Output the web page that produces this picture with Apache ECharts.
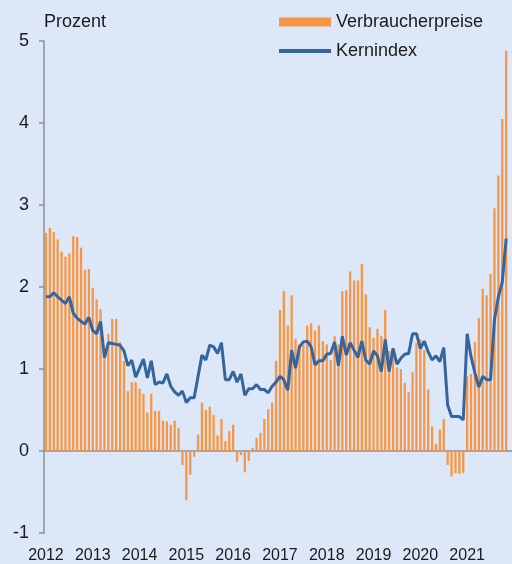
<!DOCTYPE html>
<html>
<head>
<meta charset="utf-8">
<script src="https://cdn.jsdelivr.net/npm/echarts@6/dist/echarts.min.js"></script>
<style>
  html, body { margin: 0; padding: 0; background: #dce8f7; }
  #main { width: 512px; height: 564px; }
</style>
</head>
<body>
<div id="main"></div>
<script>
// Jahre der x-Achse (Monatswerte, Jan 2012 - Nov 2021)
const years = [2012, 2013, 2014, 2015, 2016, 2017, 2018, 2019, 2020, 2021];
const months = [];
years.forEach(function (y) {
  for (let m = 1; m <= 12; m++) months.push(y + '-' + String(m).padStart(2, '0'));
});

// Verbraucherpreise, Veränderung gg. Vorjahr in %
const verbraucherpreise = [
  2.66, 2.72, 2.67, 2.58, 2.43, 2.37, 2.41, 2.62, 2.61, 2.48, 2.21, 2.22,
  1.99, 1.85, 1.73, 1.20, 1.43, 1.61, 1.61, 1.33, 1.10, 0.73, 0.84, 0.84,
  0.76, 0.70, 0.47, 0.70, 0.49, 0.49, 0.37, 0.36, 0.32, 0.37, 0.28, -0.17,
  -0.60, -0.29, -0.07, 0.20, 0.59, 0.50, 0.54, 0.44, 0.19, 0.39, 0.12, 0.24,
  0.32, -0.13, -0.05, -0.26, -0.12, 0.04, 0.16, 0.22, 0.39, 0.51, 0.59, 1.10,
  1.72, 1.95, 1.53, 1.90, 1.37, 1.30, 1.30, 1.53, 1.56, 1.47, 1.53, 1.34,
  1.30, 1.11, 1.40, 1.30, 1.95, 1.96, 2.19, 2.08, 2.08, 2.28, 1.91, 1.51,
  1.38, 1.49, 1.40, 1.72, 1.22, 1.26, 1.02, 1.00, 0.83, 0.72, 0.96, 1.32,
  1.36, 1.23, 0.75, 0.30, 0.09, 0.26, 0.39, -0.17, -0.31, -0.27, -0.28, -0.27,
  0.91, 0.94, 1.33, 1.62, 1.98, 1.90, 2.16, 2.96, 3.36, 4.05, 4.88
];

// Kernindex
const kernindex = [
  1.88, 1.88, 1.93, 1.88, 1.84, 1.80, 1.88, 1.68, 1.62, 1.58, 1.55, 1.63,
  1.47, 1.43, 1.58, 1.14, 1.32, 1.31, 1.30, 1.29, 1.22, 1.04, 1.11, 0.90,
  1.01, 1.12, 0.89, 1.10, 0.81, 0.84, 0.83, 0.94, 0.79, 0.72, 0.68, 0.73,
  0.59, 0.65, 0.65, 0.91, 1.17, 1.11, 1.29, 1.27, 1.19, 1.32, 0.87, 0.87,
  0.97, 0.84, 0.94, 0.68, 0.76, 0.76, 0.81, 0.75, 0.75, 0.71, 0.79, 0.84,
  0.91, 0.87, 0.74, 1.23, 1.01, 1.27, 1.33, 1.34, 1.27, 1.05, 1.10, 1.10,
  1.18, 1.19, 1.33, 1.04, 1.40, 1.17, 1.32, 1.23, 1.14, 1.34, 1.11, 1.06,
  1.22, 1.16, 0.97, 1.36, 0.97, 1.25, 1.06, 1.13, 1.18, 1.19, 1.43, 1.43,
  1.25, 1.34, 1.21, 1.11, 1.16, 1.09, 1.26, 0.56, 0.42, 0.42, 0.42, 0.38,
  1.43, 1.15, 0.95, 0.78, 0.91, 0.87, 0.87, 1.60, 1.88, 2.06, 2.59
];

const axisGrey = '#8e8e8e';
const textColor = '#1a1a1a';
const isYearStart = function (i) { return i % 12 === 0; };

const chart = echarts.init(document.getElementById('main'));
chart.setOption({
  backgroundColor: '#dce8f7',
  animation: false,
  textStyle: { fontFamily: 'Liberation Sans, Arial, sans-serif' },
  grid: { left: 44, right: -3.5, top: 41, bottom: 30.3 },
  legend: {
    orient: 'vertical',
    left: 274,
    top: 8,
    itemWidth: 52,
    itemHeight: 9,
    itemGap: 11,
    textStyle: { fontSize: 18, color: textColor, lineHeight: 18 },
    data: [
      { name: 'Verbraucherpreise', icon: 'rect' },
      { name: 'Kernindex', icon: 'path://M0,0H52V4H0Z' }
    ]
  },
  xAxis: [
    {
      type: 'category',
      data: months,
      boundaryGap: true,
      axisLine: { onZero: true, lineStyle: { color: axisGrey, width: 1.5 } },
      axisTick: { interval: isYearStart, length: 5, lineStyle: { color: axisGrey, width: 1.5 } },
      axisLabel: { show: false }
    },
    {
      type: 'category',
      data: months,
      position: 'bottom',
      boundaryGap: true,
      axisLine: { show: false, onZero: false },
      axisTick: { show: false },
      axisLabel: {
        interval: isYearStart,
        formatter: function (v) { return v.slice(0, 4); },
        fontSize: 16,
        color: textColor,
        margin: 15
      }
    }
  ],
  yAxis: {
    type: 'value',
    min: -1,
    max: 5,
    interval: 1,
    name: 'Prozent',
    nameLocation: 'end',
    nameGap: 10,
    nameTextStyle: { align: 'left', fontSize: 18, color: textColor },
    axisLine: { show: true, lineStyle: { color: axisGrey, width: 1.5 } },
    axisTick: { show: true, length: 5, lineStyle: { color: axisGrey, width: 1.5 } },
    splitLine: { show: false },
    axisLabel: { fontSize: 18, color: textColor, margin: 15 }
  },
  series: [
    {
      name: 'Verbraucherpreise',
      type: 'bar',
      xAxisIndex: 0,
      data: verbraucherpreise,
      barWidth: 2.3,
      itemStyle: { color: '#f79646' }
    },
    {
      name: 'Kernindex',
      type: 'line',
      xAxisIndex: 0,
      data: kernindex,
      showSymbol: false,
      symbol: 'none',
      lineStyle: { color: '#34659c', width: 3 },
      itemStyle: { color: '#34659c' },
      z: 3
    }
  ]
});
</script>
</body>
</html>
